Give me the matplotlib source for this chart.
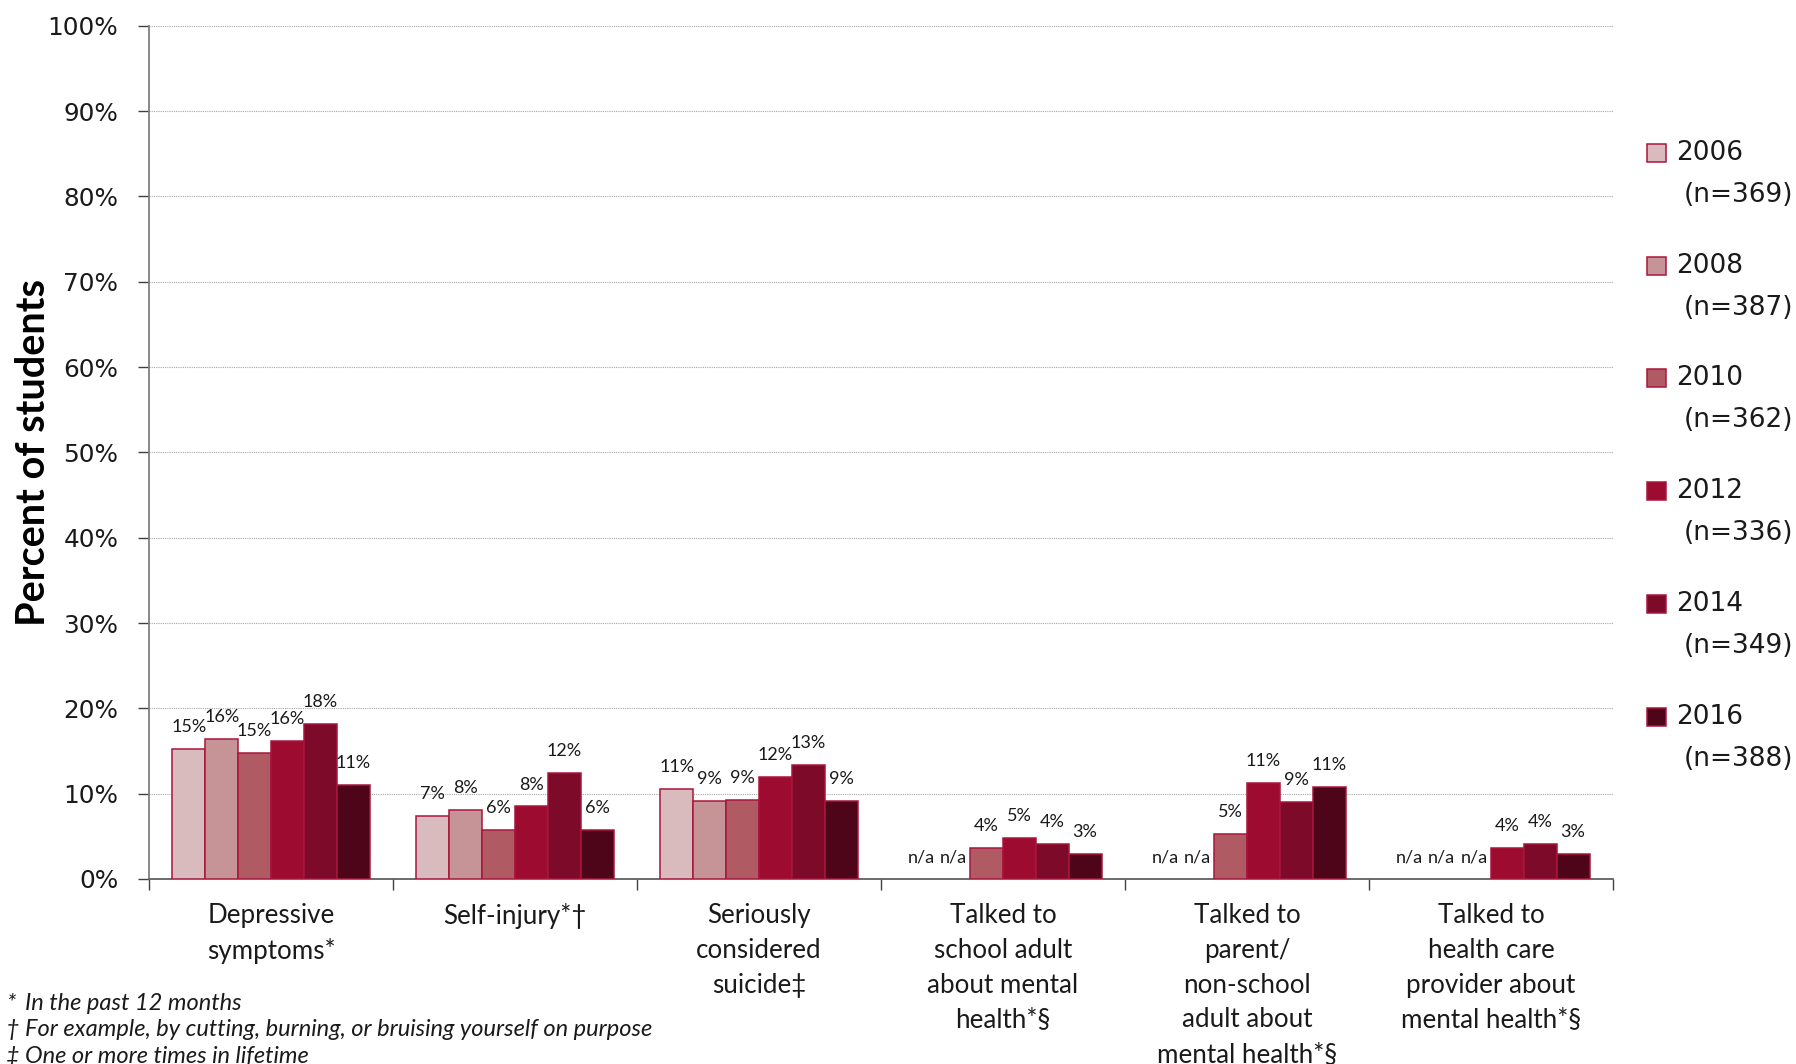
import numpy as np
import matplotlib
matplotlib.use('Agg')
import matplotlib.pyplot as plt
from matplotlib.patches import Rectangle
from matplotlib.ticker import FixedLocator, PercentFormatter

# data (percent of students), None = n/a
categories = ['Depressive\nsymptoms*', 'Self-injury*\u2020', 'Seriously\nconsidered\nsuicide\u2021',
              'Talked to\nschool adult\nabout mental\nhealth*\u00a7',
              'Talked to\nparent/\nnon-school\nadult about\nmental health*\u00a7',
              'Talked to\nhealth care\nprovider about\nmental health*\u00a7']
years = ['2006', '2008', '2010', '2012', '2014', '2016']
sizes = ['(n=369)', '(n=387)', '(n=362)', '(n=336)', '(n=349)', '(n=388)']
y2006 = [15.2, 7.4, 10.6, None, None, None]
y2008 = [16.4, 8.1, 9.1, None, None, None]
y2010 = [14.8, 5.7, 9.3, 3.6, 5.3, None]
y2012 = [16.2, 8.5, 12.0, 4.8, 11.2, 3.6]
y2014 = [18.2, 12.4, 13.4, 4.1, 9.0, 4.1]
y2016 = [11.0, 5.8, 9.1, 2.9, 10.8, 2.9]
series = [y2006, y2008, y2010, y2012, y2014, y2016]
footnotes = [('*', 'In the past 12 months'),
             ('\u2020', 'For example, by cutting, burning, or bruising yourself on purpose'),
             ('\u2021', 'One or more times in lifetime')]

colors = ['#D9BBBE', '#C69497', '#B05B64', '#9D0C30', '#7D0A28', '#4F0519']
edge = '#A8163D'

W, H = 1796, 1064
fig = plt.figure(figsize=(W / 100, H / 100), dpi=100)
ax = fig.add_axes([149 / W, 1 - 879 / H, (1613 - 149) / W, (879 - 25.7) / H])

x = np.arange(len(categories))
bw = 0.1346
for j, vals in enumerate(series):
    pos = x + (j - 2.5) * bw
    h = [np.nan if v is None else v for v in vals]
    ax.bar(pos, h, bw, color=colors[j], edgecolor=edge, linewidth=1.1, zorder=3)
    for p, v in zip(pos, vals):
        txt = 'n/a' if v is None else '%d%%' % round(v)
        ax.annotate(txt, (p, 0 if v is None else v), xytext=(0, 12.2), textcoords='offset points',
                    ha='center', va='baseline', fontsize=13, family='Lato', color='#1a1a1a')

ax.set_xlim(-0.5, len(categories) - 0.5)
ax.set_ylim(0, 100)
ax.yaxis.set_major_locator(FixedLocator(np.arange(0, 101, 10)))
ax.yaxis.set_major_formatter(PercentFormatter(decimals=0))
ax.grid(axis='y', color='#A6A6A6', linestyle=(0, (1, 1)), linewidth=0.8, zorder=0)
ax.tick_params(axis='y', length=8, width=1, color='#404040', pad=14, labelsize=17.8, labelcolor='#1a1a1a')

ax.set_xticks(x)
ax.set_xticklabels(categories, family='Lato', fontsize=18.7, linespacing=1.48, color='#1a1a1a')
ax.tick_params(axis='x', which='major', length=0, pad=17.5)
ax.set_xticks(np.arange(-0.5, len(categories)), minor=True)
ax.tick_params(axis='x', which='minor', length=8, width=1, color='#404040')

for s in ['top', 'right']:
    ax.spines[s].set_visible(False)
ax.spines['left'].set_color('#808080')
ax.spines['left'].set_linewidth(1.3)
ax.spines['bottom'].set_color('#606060')
ax.spines['bottom'].set_linewidth(1.3)

ax.set_ylabel('Percent of students', family='Lato', fontweight='bold', fontsize=28.5, labelpad=-3)

# legend, drawn by hand so the swatch sits on the year line
for i, (yr, n) in enumerate(zip(years, sizes)):
    ytop = 144 + i * 112.7
    fig.add_artist(Rectangle((1647 / W, 1 - (ytop + 18) / H), 19 / W, 18 / H,
                             transform=fig.transFigure, facecolor=colors[i], edgecolor=edge, linewidth=1.1))
    fig.text(1676 / W, 1 - (ytop + 9) / H, yr, fontsize=19, va='center', ha='left', color='#1a1a1a')
    fig.text(1684 / W, 1 - (ytop + 51) / H, n, fontsize=19, va='center', ha='left', color='#1a1a1a')

for k, (sym, note) in enumerate(footnotes):
    yb = 1 - (1010 + k * 26.5) / H
    fig.text(6 / W, yb, sym, fontsize=17, style='italic', family='Lato', va='baseline', color='#1a1a1a')
    fig.text(25 / W, yb, note, fontsize=17, style='italic', family='Lato', va='baseline', color='#1a1a1a')

fig.savefig('out.png', dpi=100)
